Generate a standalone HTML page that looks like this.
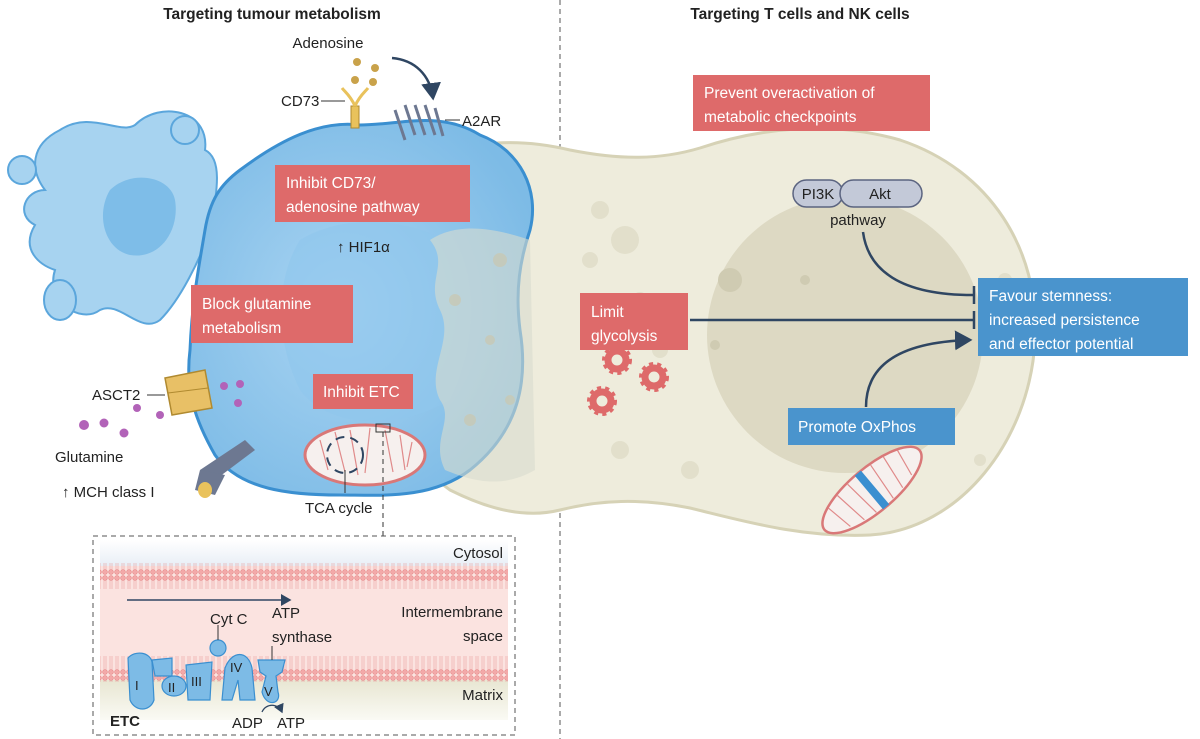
<!DOCTYPE html>
<html><head><meta charset="utf-8"><style>
html,body{margin:0;padding:0;background:#fff;}
svg{display:block;font-family:"Liberation Sans",sans-serif;}
</style></head><body>
<svg width="1200" height="739" viewBox="0 0 1200 739" xmlns="http://www.w3.org/2000/svg">
<defs>
<radialGradient id="tb" cx="0.45" cy="0.5" r="0.6"><stop offset="0" stop-color="#a9d4f2"/><stop offset="1" stop-color="#7dbbe6"/></radialGradient>
<linearGradient id="mx" x1="0" y1="0" x2="0" y2="1"><stop offset="0" stop-color="#e8e6d2"/><stop offset="1" stop-color="#fafaf4"/></linearGradient>
<linearGradient id="cy" x1="0" y1="0" x2="0" y2="1"><stop offset="0" stop-color="#fff"/><stop offset="1" stop-color="#e8eef6"/></linearGradient>
<pattern id="mem" width="6" height="25" patternUnits="userSpaceOnUse"><circle cx="3" cy="3" r="2.4" fill="#f3a9a9" stroke="#e58888" stroke-width="0.6"/><circle cx="3" cy="22" r="2.4" fill="#f3a9a9" stroke="#e58888" stroke-width="0.6"/><line x1="2" y1="5" x2="2" y2="20" stroke="#eaa0a0" stroke-width="0.6"/><line x1="4" y1="5" x2="4" y2="20" stroke="#eaa0a0" stroke-width="0.6"/></pattern>
<marker id="ah" markerWidth="8" markerHeight="8" refX="6" refY="4" orient="auto"><path d="M0,0 L7,4 L0,8 z" fill="#2f4662"/></marker>
</defs>

<!-- titles -->
<text x="272" y="19" text-anchor="middle" font-weight="bold" font-size="15.5" fill="#222">Targeting tumour metabolism</text>
<text x="800" y="19" text-anchor="middle" font-weight="bold" font-size="15.5" fill="#222">Targeting T cells and NK cells</text>
<line x1="560" y1="0" x2="560" y2="739" stroke="#555" stroke-width="1" stroke-dasharray="5,4"/>

<!-- background blob cell -->
<path d="M60,130 C90,110 120,135 135,125 C160,100 210,110 205,150 C225,160 215,200 210,230 C200,260 180,300 160,320 C140,335 120,300 100,310 C80,325 45,300 55,270 C40,265 20,250 35,225 C15,215 25,190 45,190 C30,170 30,145 60,130 Z" fill="#a7d3f0" stroke="#5ba6dc" stroke-width="2"/>
<circle cx="22" cy="170" r="14" fill="#a7d3f0" stroke="#5ba6dc" stroke-width="2"/>
<circle cx="185" cy="130" r="14" fill="#a7d3f0" stroke="#5ba6dc" stroke-width="2"/>
<ellipse cx="60" cy="300" rx="16" ry="20" fill="#a7d3f0" stroke="#5ba6dc" stroke-width="2"/>
<path d="M110,190 C130,170 170,175 175,200 C180,230 160,260 130,255 C105,250 95,215 110,190 Z" fill="#7ebde8"/>

<!-- T cell -->
<path d="M430,160 C470,140 520,138 570,150 C620,160 660,160 700,148 C760,128 830,120 900,140 C990,170 1040,250 1035,340 C1030,440 960,530 870,535 C800,538 740,520 690,508 C640,498 600,500 560,510 C520,520 480,505 450,490 C420,470 415,420 425,380 C435,320 420,220 430,160 Z" fill="#eeecdc" stroke="#d6d2b6" stroke-width="3"/>
<circle cx="845" cy="335" r="138" fill="#ddd9c3"/>
<g fill="#e2dfcb"><circle cx="600" cy="210" r="9"/><circle cx="625" cy="240" r="14"/><circle cx="590" cy="260" r="8"/><circle cx="660" cy="350" r="8"/><circle cx="620" cy="450" r="9"/><circle cx="1005" cy="280" r="7"/><circle cx="980" cy="460" r="6"/><circle cx="690" cy="470" r="9"/><circle cx="640" cy="300" r="8"/></g>
<g fill="#cfcbb2"><circle cx="730" cy="280" r="12"/><circle cx="805" cy="280" r="5"/><circle cx="715" cy="345" r="5"/></g>

<!-- tumour cell -->
<path d="M240,170 C280,140 320,120 360,125 C400,125 440,110 480,135 C520,150 540,190 530,230 C520,260 515,290 520,330 C528,380 520,430 470,470 C430,500 380,495 340,495 C290,495 240,490 215,455 C195,420 185,390 190,350 C192,300 200,260 205,230 C210,200 220,185 240,170 Z" fill="url(#tb)" stroke="#3a8fd0" stroke-width="3"/>
<path d="M300,240 C350,210 420,220 460,250 C480,300 470,360 450,400 C400,430 330,430 300,390 C275,340 275,280 300,240 Z" fill="#8fc6ec" opacity="0.6"/>
<!-- overlapping translucent T cell part -->
<path d="M430,240 C460,220 500,230 530,240 L535,470 C500,490 470,480 445,470 C430,440 455,420 440,400 C425,370 455,340 440,310 C425,280 450,265 430,240 Z" fill="#d9dcce" opacity="0.6"/>
<g fill="#c8c9b5" opacity="0.8"><circle cx="455" cy="300" r="6"/><circle cx="500" cy="260" r="7"/><circle cx="490" cy="340" r="5"/><circle cx="470" cy="420" r="6"/><circle cx="510" cy="400" r="5"/></g>

<!-- adenosine -->
<text x="328" y="48" text-anchor="middle" font-size="15" fill="#222">Adenosine</text>
<g fill="#c9a24a"><circle cx="357" cy="62" r="4"/><circle cx="375" cy="68" r="4"/><circle cx="355" cy="80" r="4"/><circle cx="373" cy="82" r="4"/></g>
<path d="M392,58 C415,60 430,75 433,98" fill="none" stroke="#2f4662" stroke-width="2.5" marker-end="url(#ah)"/>
<text x="281" y="106" font-size="15" fill="#222">CD73</text>
<line x1="321" y1="101" x2="345" y2="101" stroke="#333"/>
<rect x="351" y="106" width="8" height="22" fill="#e9c25c" stroke="#b08a30"/>
<path d="M355,106 C350,95 345,92 342,88 M355,106 C360,95 365,92 368,88" fill="none" stroke="#e9c25c" stroke-width="3"/>
<g fill="none" stroke="#6d7891" stroke-width="3"><path d="M395,110 l10,30 M405,105 l10,30 M415,105 l10,30 M425,105 l10,30 M435,108 l8,28"/></g>
<line x1="445" y1="120" x2="460" y2="120" stroke="#333"/>
<text x="462" y="126" font-size="15" fill="#222">A2AR</text>

<!-- red boxes left -->
<rect x="275" y="165" width="195" height="57" fill="#de6a6a"/>
<text x="286" y="188" font-size="15.5" fill="#fff">Inhibit CD73/</text>
<text x="286" y="212" font-size="15.5" fill="#fff">adenosine pathway</text>
<text x="337" y="252" font-size="15" fill="#222">↑ HIF1α</text>
<rect x="191" y="285" width="162" height="58" fill="#de6a6a"/>
<text x="202" y="309" font-size="15.5" fill="#fff">Block glutamine</text>
<text x="202" y="333" font-size="15.5" fill="#fff">metabolism</text>
<rect x="313" y="374" width="100" height="35" fill="#de6a6a"/>
<text x="323" y="397" font-size="15.5" fill="#fff">Inhibit ETC</text>

<!-- glutamine/asct2 -->
<text x="92" y="400" font-size="15" fill="#222">ASCT2</text>
<line x1="147" y1="395" x2="165" y2="395" stroke="#333"/>
<path d="M165,378 L205,370 L212,408 L172,415 Z" fill="#e8c066" stroke="#b08a30" stroke-width="1.5"/>
<line x1="168" y1="393" x2="208" y2="388" stroke="#b08a30"/>
<g fill="#b263b8"><circle cx="238" cy="403" r="4"/><circle cx="224" cy="386" r="4"/><circle cx="240" cy="384" r="4"/><circle cx="137" cy="408" r="4"/><circle cx="160" cy="415" r="4"/><circle cx="84" cy="425" r="5"/><circle cx="104" cy="423" r="4.5"/><circle cx="124" cy="433" r="4.5"/></g>
<text x="55" y="462" font-size="15" fill="#222">Glutamine</text>
<text x="62" y="497" font-size="15" fill="#222">↑ MCH class I</text>
<path d="M200,470 L245,440 L255,450 L215,480 Z" fill="#6d7891"/>
<path d="M200,470 L225,475 L215,495 L195,490 Z" fill="#6d7891"/>
<ellipse cx="205" cy="490" rx="7" ry="8" fill="#e9c25c"/>

<!-- mitochondrion left -->
<ellipse cx="365" cy="455" rx="60" ry="30" fill="#f6f0ee" stroke="#d97878" stroke-width="3"/>
<path d="M320,440 l8,30 M335,432 l10,40 M350,430 l8,45 M370,428 l-5,45 M385,430 l8,42 M400,435 l5,35 M412,442 l-5,25" stroke="#e08a8a" stroke-width="1.2"/>
<circle cx="345" cy="455" r="18" fill="none" stroke="#2f4662" stroke-width="2" stroke-dasharray="9,6"/>
<line x1="345" y1="470" x2="345" y2="493" stroke="#333"/>
<text x="305" y="513" font-size="15" fill="#222">TCA cycle</text>
<rect x="376" y="424" width="14" height="8" fill="none" stroke="#333"/>
<line x1="383" y1="432" x2="383" y2="536" stroke="#333" stroke-dasharray="5,4"/>

<!-- inset -->
<rect x="93" y="536" width="422" height="199" fill="#fff" stroke="#555" stroke-dasharray="5,4"/>
<rect x="100" y="540" width="408" height="26" fill="url(#cy)"/>
<rect x="100" y="566" width="408" height="124" fill="#fbe3e0"/>
<rect x="100" y="680" width="408" height="40" fill="url(#mx)"/>
<rect x="100" y="563" width="408" height="26" fill="url(#mem)"/>
<rect x="100" y="656" width="408" height="26" fill="url(#mem)"/>
<text x="503" y="558" text-anchor="end" font-size="15" fill="#222">Cytosol</text>
<text x="503" y="617" text-anchor="end" font-size="15" fill="#222">Intermembrane</text>
<text x="503" y="641" text-anchor="end" font-size="15" fill="#222">space</text>
<text x="503" y="700" text-anchor="end" font-size="15" fill="#222">Matrix</text>
<line x1="127" y1="600" x2="290" y2="600" stroke="#2f4662" stroke-width="1.5" marker-end="url(#ah)"/>
<g fill="#7dbbe6" stroke="#3a8fd0" stroke-width="1.2">
<path d="M128,658 C135,650 150,652 152,662 L154,700 C150,712 135,712 130,700 Z"/>
<path d="M152,660 L172,658 L172,676 L155,676 Z"/>
<ellipse cx="174" cy="686" rx="12" ry="10"/>
<path d="M186,665 L212,662 L210,700 L188,700 Z"/>
<circle cx="218" cy="648" r="8"/>
<path d="M225,668 C232,650 248,650 252,668 L255,700 L240,700 L238,680 L232,700 L222,700 Z"/>
<path d="M258,660 L285,660 L282,672 L276,676 L278,692 C282,704 266,708 262,692 L266,676 L260,672 Z"/>
</g>
<g font-size="13" fill="#222"><text x="135" y="690">I</text><text x="168" y="692">II</text><text x="191" y="686">III</text><text x="230" y="672">IV</text><text x="264" y="696">V</text></g>
<line x1="218" y1="625" x2="218" y2="640" stroke="#333"/>
<text x="210" y="624" font-size="15" fill="#222">Cyt C</text>
<text x="272" y="618" font-size="15" fill="#222">ATP</text>
<text x="272" y="642" font-size="15" fill="#222">synthase</text>
<line x1="272" y1="646" x2="272" y2="660" stroke="#333"/>
<path d="M262,712 C266,703 278,703 282,712" fill="none" stroke="#2f4662" stroke-width="1.3" marker-end="url(#ah)"/>
<text x="232" y="728" font-size="15" fill="#222">ADP</text>
<text x="277" y="728" font-size="15" fill="#222">ATP</text>
<text x="110" y="726" font-size="15" font-weight="bold" fill="#222">ETC</text>

<!-- right side -->
<rect x="693" y="75" width="237" height="56" fill="#de6a6a"/>
<text x="704" y="98" font-size="15.5" fill="#fff">Prevent overactivation of</text>
<text x="704" y="122" font-size="15.5" fill="#fff">metabolic checkpoints</text>
<rect x="793" y="180" width="50" height="27" rx="13.5" fill="#c3c9d8" stroke="#5b6480" stroke-width="1.5"/>
<rect x="840" y="180" width="82" height="27" rx="13.5" fill="#c3c9d8" stroke="#5b6480" stroke-width="1.5"/>
<text x="818" y="199" text-anchor="middle" font-size="15" fill="#222">PI3K</text>
<text x="880" y="199" text-anchor="middle" font-size="15" fill="#222">Akt</text>
<text x="858" y="225" text-anchor="middle" font-size="15" fill="#222">pathway</text>
<path d="M863,232 C868,270 900,295 973,295" fill="none" stroke="#2f4662" stroke-width="2.5"/>
<line x1="974" y1="286" x2="974" y2="304" stroke="#2f4662" stroke-width="2.5"/>
<line x1="690" y1="320" x2="974" y2="320" stroke="#2f4662" stroke-width="2.5"/>
<line x1="974" y1="311" x2="974" y2="329" stroke="#2f4662" stroke-width="2.5"/>
<path d="M866,407 C866,365 900,342 970,340" fill="none" stroke="#2f4662" stroke-width="2.5" marker-end="url(#ah)"/>
<rect x="580" y="293" width="108" height="57" fill="#de6a6a"/>
<text x="591" y="317" font-size="15.5" fill="#fff">Limit</text>
<text x="591" y="341" font-size="15.5" fill="#fff">glycolysis</text>
<g fill="none" stroke="#de6a6a">
<circle cx="617" cy="360" r="9" stroke-width="7"/><circle cx="617" cy="360" r="13" stroke-width="4" stroke-dasharray="4,4"/>
<circle cx="654" cy="377" r="9" stroke-width="7"/><circle cx="654" cy="377" r="13" stroke-width="4" stroke-dasharray="4,4"/>
<circle cx="602" cy="401" r="9" stroke-width="7"/><circle cx="602" cy="401" r="13" stroke-width="4" stroke-dasharray="4,4"/>
</g>
<rect x="978" y="278" width="210" height="78" fill="#4a94cd"/>
<text x="989" y="301" font-size="15.5" fill="#fff">Favour stemness:</text>
<text x="989" y="325" font-size="15.5" fill="#fff">increased persistence</text>
<text x="989" y="349" font-size="15.5" fill="#fff">and effector potential</text>
<rect x="788" y="408" width="167" height="37" fill="#4a94cd"/>
<text x="798" y="432" font-size="15.5" fill="#fff">Promote OxPhos</text>
<g transform="translate(872,490) rotate(-40)">
<ellipse cx="0" cy="0" rx="62" ry="22" fill="#f6f0ee" stroke="#d97878" stroke-width="2.5"/>
<path d="M-45,-14 l5,28 M-30,-18 l5,36 M-15,-20 l4,40 M15,-20 l-4,40 M30,-18 l-5,36 M45,-14 l-5,28" stroke="#e08a8a" stroke-width="1.2"/>
<rect x="-4" y="-22" width="8" height="44" fill="#3a8fd0"/>
</g>
</svg>
</body></html>
